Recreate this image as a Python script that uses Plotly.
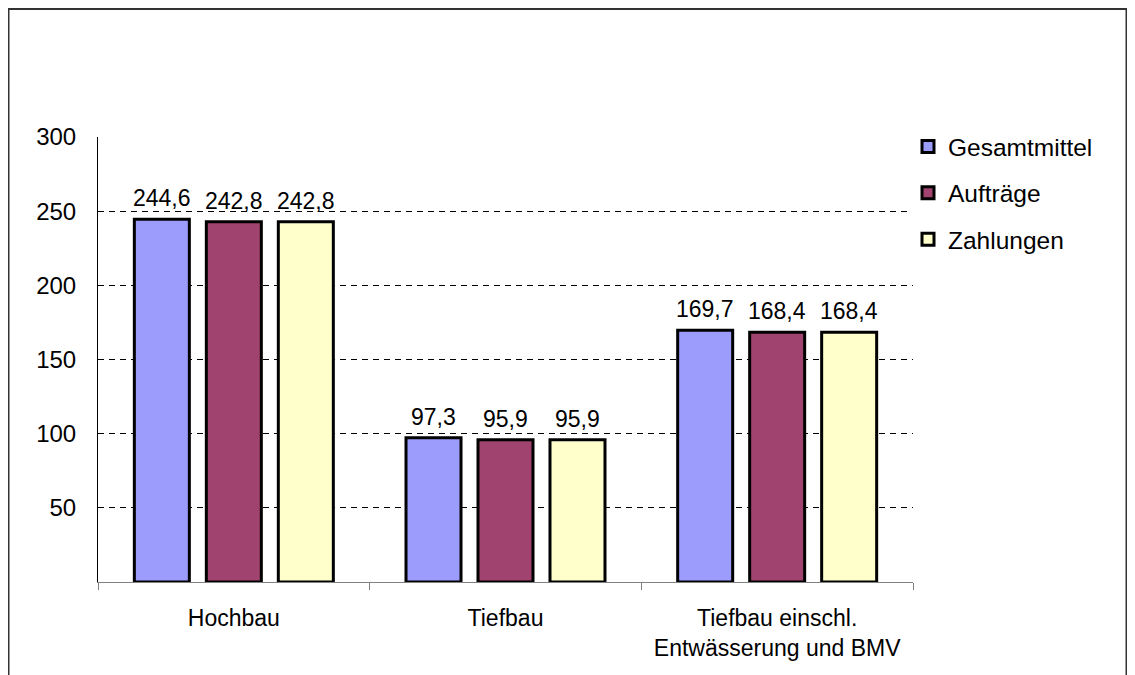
import plotly.graph_objects as go

categories = ["Hochbau", "Tiefbau", "Tiefbau einschl.<br>Entwässerung und BMV"]
series_names = ["Gesamtmittel", "Aufträge", "Zahlungen"]
gesamtmittel = [244.6, 97.3, 169.7]
auftraege = [242.8, 95.9, 168.4]
zahlungen = [242.8, 95.9, 168.4]
y_ticks = [50, 100, 150, 200, 250, 300]

values = [gesamtmittel, auftraege, zahlungen]
colors = ["#9C9CFC", "#A0436F", "#FFFFCC"]
offsets = [-72, 0, 72]
FONT = "Arial, Liberation Sans, sans-serif"

W, H = 1120, 675
L, R, T, B = 90, 215, 129, 101
PW, PH = W - L - R, H - T - B

fig = go.Figure()
for i, (name, vals, col) in enumerate(zip(series_names, values, colors)):
    fig.add_trace(go.Bar(
        x=categories, y=vals, name=name,
        marker=dict(color=col, line=dict(color="black", width=3)),
        legendgroup=name,
    ))
    for c, v in zip(categories, vals):
        fig.add_annotation(
            x=c, y=v, xref="x", yref="y", text=f"{v:.1f}".replace(".", ","),
            showarrow=False, yanchor="bottom", xshift=offsets[i], yshift=6,
            font=dict(family=FONT, size=23, color="black"),
        )

fig.update_layout(
    width=W, height=H,
    margin=dict(l=L, r=R, t=T, b=B),
    paper_bgcolor="white", plot_bgcolor="white",
    barmode="group", bargap=0.205, bargroupgap=0.236,
    separators=", ",
    font=dict(family=FONT, size=23, color="black"),
    legend=dict(x=(900 - L) / PW, y=(574 - 116) / PH, xanchor="left", yanchor="top",
                font=dict(family=FONT, size=24.5, color="black"),
                tracegroupgap=11.5, itemwidth=30),
    showlegend=True,
)
fig.update_xaxes(
    type="category", showline=True, linecolor="#808080", linewidth=1,
    ticks="outside", ticklen=7, tickcolor="#808080", tickson="boundaries",
    ticklabelstandoff=15, showgrid=False,
    tickfont=dict(family=FONT, size=23, color="black"),
)
fig.update_yaxes(
    range=[0, 300], tickvals=y_ticks, showline=True, linecolor="black", linewidth=1,
    ticks="", ticklabelstandoff=16,
    showgrid=True, gridcolor="black", gridwidth=1, griddash="6px,5px",
    zeroline=False,
    tickfont=dict(family=FONT, size=24, color="black"),
)
fig.add_shape(type="rect", xref="paper", yref="paper",
              x0=(0.5 - L) / PW, x1=(W - 1.5 - L) / PW,
              y0=(PH + T - (H + 5)) / PH, y1=(PH + T - 1) / PH,
              line=dict(color="#333333", width=2), layer="below")

fig.write_html("out.html")
